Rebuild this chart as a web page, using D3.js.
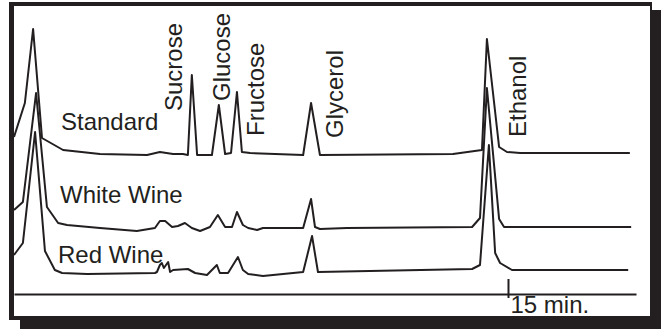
<!DOCTYPE html>
<html>
<head>
<meta charset="utf-8">
<script src="https://cdn.jsdelivr.net/npm/d3@7"></script>
<style>
  html, body { margin: 0; padding: 0; background: #ffffff; }
  svg { display: block; }
  text { font-family: "Liberation Sans", Arial, Helvetica, sans-serif; fill: #231f20; }
</style>
</head>
<body>
<svg id="chart" width="661" height="329"></svg>
<script>
// ---------------- DATA ----------------
// retention time (min) and detector response (arbitrary units) for each trace
const standardTime   = [0, 0.33, 0.58, 0.85, 1.49, 2.61, 4.04, 4.43, 4.83, 5.13, 5.28, 5.40, 5.56, 6.01, 6.22, 6.41, 6.59, 6.77, 6.92, 7.17, 8.78, 9.02, 9.29, 13.33, 14.21, 14.36, 14.73, 14.97, 15.37, 18.70];
const standardSignal = [18, 52, 126, 17, 5, 1, 0, 3, 1, 1, 0, 80, 0, 0, 50, 1, 2, 63, 3, 2, 0, 52, 0, 1, 5, 116, 8, 3, 2, 2];

const whiteTime   = [0, 0.27, 0.67, 1.00, 1.34, 1.61, 2.61, 3.73, 4.28, 4.43, 4.59, 4.80, 4.98, 5.19, 5.40, 5.65, 5.95, 6.19, 6.41, 6.62, 6.77, 6.95, 7.11, 7.38, 7.56, 8.78, 9.02, 9.14, 9.29, 10.11, 13.91, 14.15, 14.36, 14.73, 14.88, 15.27, 18.74];
const whiteSignal = [18, 26, 135, 21, 5, 3, 0, -3, 0, 7, 7, 1, 2, 5, 0, -3, 1, 13, 1, 1, 16, 3, 0, -2, 0, 0, 29, 1, -1, 0, 1, 10, 140, 9, 1, 1, 1];

const redTime   = [0, 0.27, 0.64, 0.94, 1.24, 1.46, 2.22, 4.28, 4.34, 4.43, 4.49, 4.55, 4.68, 4.74, 4.83, 5.28, 5.50, 5.86, 6.16, 6.25, 6.50, 6.80, 6.95, 7.11, 7.56, 8.78, 9.05, 9.23, 13.91, 14.15, 14.42, 14.61, 14.76, 15.12, 18.65];
const redSignal = [18, 30, 141, 22, 3, 0, -1, 0, 1, 8, 10, 5, 11, 1, 3, 4, 0, -2, 8, 0, 0, 16, 3, -1, -3, 1, 37, 1, 4, 8, 128, 20, 10, 3, 3];

const seriesNames = ["Standard", "White Wine", "Red Wine"];
const peakNames   = ["Sucrose", "Glucose", "Fructose", "Glycerol", "Ethanol"];
const tickValues  = [15];
const tickLabels  = ["15 min."];
const axisMaxTime = 18.887;

// ---------------- LAYOUT ----------------
const ink = "#231f20";
const svg = d3.select("#chart");

// frame with drop shadow
svg.append("rect").attr("x", 20).attr("y", 10).attr("width", 641).attr("height", 319).attr("fill", ink);
svg.append("rect").attr("x", 9).attr("y", 2).attr("width", 643).attr("height", 318).attr("fill", ink);
svg.append("rect").attr("x", 14).attr("y", 6).attr("width", 636).attr("height", 310).attr("fill", "#ffffff");

const x = d3.scaleLinear().domain([0, axisMaxTime]).range([14, 636]);
const y = d3.scaleLinear().domain([0, 150]).range([0, -150]);

const baselines = [155, 228, 273];
const seriesLabelPos = [[61, 130], [60, 203], [58, 263]];
const peakLabelPos = [[182, 111], [230, 101], [264, 136], [343, 138], [526, 137]];

const series = [
  { name: seriesNames[0], t: standardTime, s: standardSignal },
  { name: seriesNames[1], t: whiteTime, s: whiteSignal },
  { name: seriesNames[2], t: redTime, s: redSignal }
];

const line = d3.line()
  .x(d => x(d[0]))
  .y(d => y(d[1]));

series.forEach((sr, i) => {
  const g = svg.append("g").attr("transform", `translate(0,${baselines[i]})`);
  const pts = sr.t.map((t, k) => [t, sr.s[k]]);
  g.append("path")
    .attr("d", line(pts))
    .attr("fill", "none")
    .attr("stroke", ink)
    .attr("stroke-width", 2)
    .attr("stroke-linejoin", "round");
});

// series labels
seriesNames.forEach((n, i) => {
  svg.append("text")
    .attr("x", seriesLabelPos[i][0])
    .attr("y", seriesLabelPos[i][1])
    .attr("font-size", 24)
    .text(n);
});

// peak labels (vertical)
peakNames.forEach((n, i) => {
  svg.append("text")
    .attr("transform", `translate(${peakLabelPos[i][0]},${peakLabelPos[i][1]}) rotate(-90)`)
    .attr("font-size", 24)
    .text(n);
});

// time axis
const axis = d3.axisBottom(x)
  .tickValues(tickValues)
  .tickSizeInner(-15)
  .tickSizeOuter(0)
  .tickFormat((d, i) => tickLabels[i]);

const ax = svg.append("g").attr("transform", "translate(0,294)").call(axis);
ax.select(".domain").attr("stroke", ink).attr("stroke-width", 2);
ax.selectAll(".tick line").attr("stroke", ink).attr("stroke-width", 2).attr("y1", 4).attr("y2", -15);
ax.selectAll(".tick text")
  .attr("fill", ink)
  .attr("font-size", 24)
  .attr("font-family", "Liberation Sans, Arial, Helvetica, sans-serif")
  .attr("text-anchor", "start")
  .attr("x", 2)
  .attr("y", 19)
  .attr("dy", 0);
</script>
</body>
</html>
